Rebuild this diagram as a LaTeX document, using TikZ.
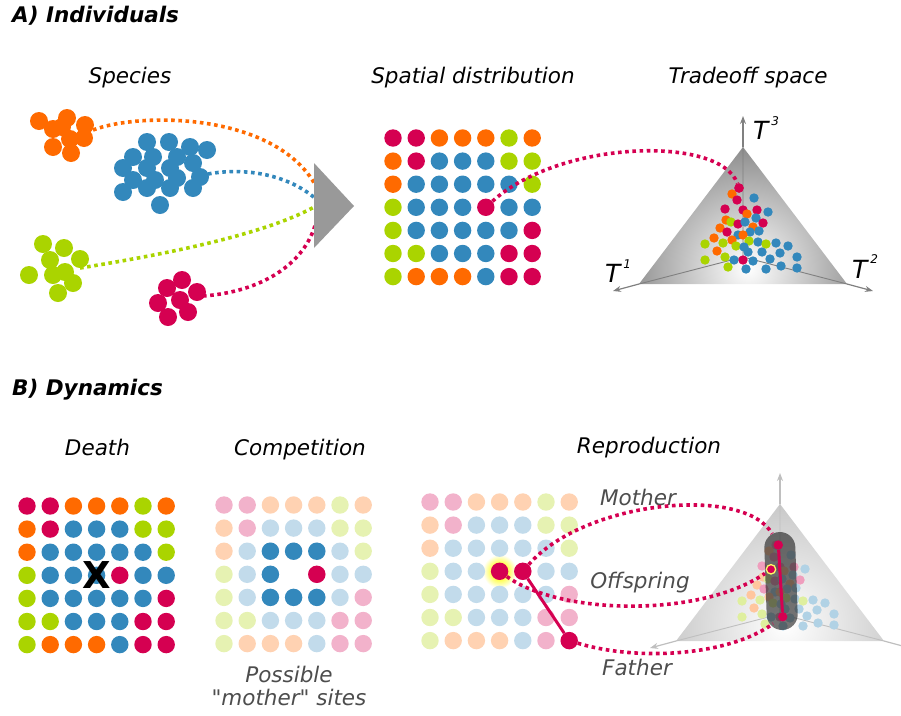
\documentclass[tikz,border=0pt]{standalone}
\usepackage{fontspec}
\setmainfont{DejaVu Sans}[Ligatures=TeXOff]
\usetikzlibrary{arrows.meta}

\definecolor{colR}{HTML}{D50051}
\definecolor{colO}{HTML}{FF6A00}
\definecolor{colB}{HTML}{3388BC}
\definecolor{colG}{HTML}{AAD400}
\definecolor{txtgray}{HTML}{4D4D4D}
\definecolor{funnelgray}{HTML}{999999}

% soft halo round the new offspring
\pgfdeclareradialshading{halo}{\pgfpoint{0bp}{0bp}}{%
  color(0bp)=(yellow!70!white); color(12bp)=(yellow!70!white);
  color(25bp)=(white); color(50bp)=(white)}

\tikzset{
  site/.style={circle, inner sep=0pt, minimum size=17.4pt},
  pt/.style={circle, inner sep=0pt, minimum size=9.4pt},
  dots/.style={line width=3.6pt, dash pattern=on 3.6pt off 3.6pt},
  lbl/.style={font=\fontsize{21.5}{24}\selectfont\itshape, anchor=base, inner sep=0pt},
  head/.style={font=\fontsize{21.5}{24}\selectfont\bfseries\itshape, anchor=base west, inner sep=0pt},
  note/.style={lbl, text=txtgray},
  axlab/.style={font=\fontsize{25}{25}\selectfont\itshape, anchor=base west, inner sep=0pt},
  axis/.style={line width=1.2pt, -{Stealth[length=8pt,width=6pt]}},
}

% colours of the 7x7 lattice, row by row
\newcommand\popmap{{R,R,O,O,O,G,O},{O,R,B,B,B,G,G},{O,B,B,B,B,B,G},{G,B,B,B,R,B,B},{G,B,B,B,B,B,R},{G,G,B,B,B,R,R},{G,O,O,O,B,R,R}}

% #1 name prefix, #2/#3 first site, #4 tint, #5 site left out (10*column+row)
\newcommand\sitegrid[5]{%
  \foreach \row [count=\j from 0] in \popmap {
    \foreach \c [count=\i from 0] in \row {
      \ifnum\numexpr10*\i+\j\relax=#5\relax\else
        \node[site, fill=col\c!#4] (#1-\i-\j) at ({#2+\i*23.2},{#3+\j*23.1}) {};
      \fi
    }
  }}

% ternary tradeoff space: #1 shade colour, #2 line colour, #3 name prefix
\newcommand\simplex[3]{%
  \coordinate (#3-top) at (743,147);
  \coordinate (#3-left) at (639,284);
  \coordinate (#3-right) at (847,284);
  \coordinate (#3-mid) at (743,257);
  \begin{scope}
    \clip (#3-top) -- (#3-left) -- (#3-right) -- cycle;
    \shade[inner color=white, outer color=#1] (748,268) circle (135pt);
  \end{scope}
  \draw[#2, line width=0.9pt] (#3-mid) -- (#3-top) (#3-mid) -- (#3-left) (#3-mid) -- (#3-right);
  \draw[axis, #2] (#3-top) -- (743,116);
  \draw[axis, #2] (#3-left) -- (613,291);
  \draw[axis, #2] (#3-right) -- (873,291);
}

% individuals placed by their trait values
\newcommand\traitcloud[1]{%
  \foreach \px/\py/\pc in {739/188/R, 732/194/O, 737/200/R, 754/198/B, 725/209/R,
    743/210/R, 757/210/R, 768/212/B, 747/214/O, 726/220/O, 731/222/G, 738/224/R,
    745/222/B, 756/218/B, 763/223/R, 720/228/O, 727/232/R, 753/227/O, 738/235/B,
    750/232/B, 759/231/B, 743/235/O, 714/238/O, 732/240/O, 723/243/G, 705/244/G,
    736/246/G, 749/241/G, 758/242/B, 766/244/G, 776/243/B, 788/246/B, 717/251/O,
    744/247/B, 748/252/B, 762/252/B, 780/253/B, 705/260/G, 725/257/G, 734/260/B,
    743/260/R, 753/261/B, 770/259/B, 797/257/B, 728/267/G, 746/269/B, 766/269/B,
    781/266/B, 797/268/B}
    {\fill[col\pc!#1] (\px,\py) circle (4.7pt);}
}

\begin{document}
\begin{tikzpicture}[x=1pt,y=-1pt]
\useasboundingbox (0,0) rectangle (901,715);
\clip (0,0) rectangle (901,715);

% ---------------- headings and captions ----------------
\node[head] (hA) at (12,22) {A) Individuals};
\node[head] (hB) at (12,395) {B) Dynamics};
\node[lbl] (tSpecies) at (130,83) {Species};
\node[lbl] (tSpatial) at (473,83) {Spatial distribution};
\node[lbl] (tTrade) at (748,83) {Tradeoff space};
\node[lbl] (tDeath) at (97.5,455) {Death};
\node[lbl] (tComp) at (300,455) {Competition};
\node[lbl] (tRepro) at (649,453) {Reproduction};
\node[note] (tMother) at (638,505) {Mother};
\node[note] (tOff) at (640,588) {Offspring};
\node[note] (tFather) at (637,675) {Father};
\node[note] (tPoss1) at (289,682) {Possible};
\node[note] (tPoss2) at (289,705) {"mother" sites};

% ---------------- species pools ----------------
\foreach \px/\py in {39/121, 53/129, 67/118, 62/127, 85/125, 70/139, 84/138, 53/147, 71/153}
  {\fill[colO] (\px,\py) circle (9pt);}
\foreach \px/\py in {147/142, 169/142, 190/147, 207/150, 133/157, 153/157, 177/157, 193/163,
  123/168, 147/168, 170/168, 200/177, 133/180, 155/180, 177/178, 193/188, 123/192, 147/188,
  170/188, 160/205}
  {\fill[colB] (\px,\py) circle (9pt);}
\foreach \px/\py in {43/244, 64/248, 50/260, 80/259, 29/275, 53/275, 65/272, 73/283, 58/293}
  {\fill[colG] (\px,\py) circle (9pt);}
\foreach \px/\py in {182/280, 167/288, 197/292, 158/303, 180/300, 188/312, 168/317}
  {\fill[colR] (\px,\py) circle (9pt);}

\coordinate (spO) at (93,130);
\coordinate (spB) at (208,174);
\coordinate (spG) at (80,268);
\coordinate (spR) at (203,296);
\coordinate (funO) at (316,186);
\coordinate (funB) at (316,199);
\coordinate (funG) at (316,206);
\coordinate (funR) at (316,222);

\draw[dots, colO] (spO) .. controls (140,112) and (275,112) .. (funO);
\draw[dots, colB] (spB) .. controls (240,168) and (285,172) .. (funB);
\draw[dots, colG] (spG) .. controls (180,252) and (270,232) .. (funG);
\draw[dots, colR] (spR) .. controls (260,292) and (305,265) .. (funR);

% funnel into the landscape
\fill[funnelgray] (314,163) -- (354,206) -- (314,248) -- cycle;

% ---------------- spatial distribution ----------------
\sitegrid{A}{393}{138}{100}{99}

% ---------------- tradeoff space ----------------
\simplex{black!50}{black!50}{TA}
\traitcloud{100}
\node[pt, fill=colR] (tsel) at (739,188) {};
\node[axlab] (T3) at (753,139) {T\kern3pt\raisebox{14pt}{\fontsize{12}{12}\selectfont 3}};
\node[axlab] (T1) at (605,282) {T\kern3pt\raisebox{14pt}{\fontsize{12}{12}\selectfont 1}};
\node[axlab] (T2) at (852,278) {T\kern3pt\raisebox{15pt}{\fontsize{12}{12}\selectfont 2}};

\draw[dots, colR] (A-4-3) .. controls (560,140) and (720,135) .. (tsel);

% ---------------- death ----------------
\sitegrid{D}{27}{506}{100}{99}
\node[font=\fontsize{37}{37}\selectfont\bfseries, inner sep=0pt] (kill) at (D-3-3) {X};

% ---------------- competition ----------------
\sitegrid{C}{224}{505}{30}{33}
\foreach \i/\j/\c in {2/2/B, 3/2/B, 4/2/B, 2/3/B, 4/3/R, 2/4/B, 3/4/B, 4/4/B}
  {\node[site, fill=col\c] (Cn-\i-\j) at (C-\i-\j) {};}

% ---------------- reproduction ----------------
\coordinate (glowc) at (499.6,571.3);
\shade[shading=halo] (glowc) circle (17pt);
\sitegrid{R}{430}{502}{30}{33}
\node[site, fill=colR] (off) at (glowc) {};
\node[site, fill=colR] (mom) at (R-4-3) {};
\node[site, fill=colR] (dad) at (R-6-6) {};
\draw[colR, line width=3pt] (mom) -- (dad);

\begin{scope}[shift={(37,357)}]
  \simplex{black!24}{black!25}{TB}
  \traitcloud{38}
\end{scope}
\node[fill=black!90, fill opacity=0.6, rounded corners=15.5pt, minimum width=31pt,
      minimum height=98pt, inner sep=0pt, rotate=2] (caps) at (781,581) {};
\node[pt, fill=colR] (tmom) at (778.3,545) {};
\node[pt, fill=colR] (tdad) at (782.7,616.7) {};
\draw[colR, line width=3pt] (tmom) -- (tdad);
\node[pt, fill=colR, draw=yellow!60!white, line width=1.3pt] (toff) at (771,569.3) {};

\draw[dots, colR, shorten >=8pt] (mom) .. controls (585,500) and (745,485) .. (tmom);
\draw[dots, colR, shorten >=2pt] (off) .. controls (560,615) and (700,618) .. (toff);
\draw[dots, colR, shorten >=7pt] (dad) .. controls (640,662) and (730,655) .. (tdad);

\end{tikzpicture}
\end{document}
